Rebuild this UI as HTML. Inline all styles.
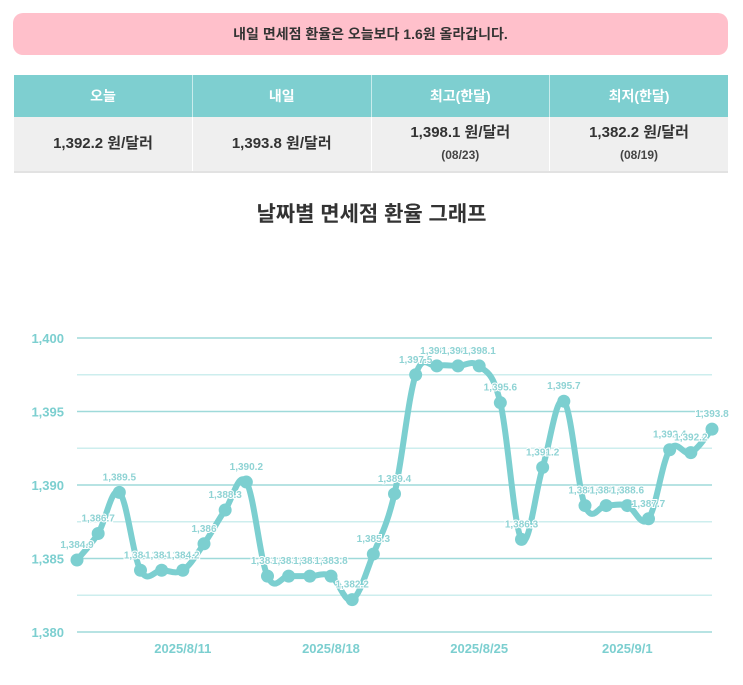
<!DOCTYPE html>
<html><head><meta charset="utf-8">
<style>
body{margin:0;width:743px;height:685px;background:#fff;font-family:"Liberation Sans","Noto Sans CJK KR",sans-serif;overflow:hidden;position:relative}
.banner{position:absolute;left:13px;top:13px;width:715px;height:42px;background:#ffc0cb;border-radius:10px;text-align:center;line-height:42px;font-size:14px;color:#333;font-weight:bold}
table{position:absolute;left:14px;top:75px;width:714px;border-collapse:collapse;table-layout:fixed}
th{background:#7ecfd0;color:#fff;font-size:14px;height:42px;padding:0;font-weight:bold;border-right:1px solid #c8ecec}
th:last-child,td:last-child{border-right:none}
td{background:#efefef;height:54px;padding:0;text-align:center;font-size:15px;font-weight:bold;color:#333;border-right:1px solid #fff;border-bottom:2px solid #e2e2e2;line-height:22px}
td small{font-size:12px;font-weight:bold;color:#444}
h2{position:absolute;top:198px;left:0;width:743px;text-align:center;margin:0;font-size:21px;font-weight:bold;color:#333}
svg{position:absolute;left:0;top:0}
</style></head><body>
<div class="banner">내일 면세점 환율은 오늘보다 1.6원 올라갑니다.</div>
<table><tr><th>오늘</th><th>내일</th><th>최고(한달)</th><th>최저(한달)</th></tr>
<tr><td>1,392.2 원/달러</td><td>1,393.8 원/달러</td><td>1,398.1 원/달러<br><small>(08/23)</small></td><td>1,382.2 원/달러<br><small>(08/19)</small></td></tr></table>
<h2>날짜별 면세점 환율 그래프</h2>
<svg id="c" width="743" height="685"></svg>
<script>
var v=[1384.9,1386.7,1389.5,1384.2,1384.2,1384.2,1386,1388.3,1390.2,1383.8,1383.8,1383.8,1383.8,1382.2,1385.3,1389.4,1397.5,1398.1,1398.1,1398.1,1395.6,1386.3,1391.2,1395.7,1388.6,1388.6,1388.6,1387.7,1392.4,1392.2,1393.8];
function X(i){return 77+i*635/30}function Y(a){return 632-(a-1380)*14.7}
var s='',c='#7ccfd0';
for(var k=0;k<9;k++){var y=338+k*36.75;s+='<line x1="77" x2="712" y1="'+y+'" y2="'+y+'" stroke="'+(k%2?'#cdeeee':'#9fdada')+'" stroke-width="1.5"/>';}
var yl=['1,400','1,395','1,390','1,385','1,380'];
for(k=0;k<5;k++)s+='<text x="64" y="'+(338+k*73.5+5)+'" text-anchor="end" font-size="13" font-weight="bold" fill="'+c+'" font-family="Liberation Sans">'+yl[k]+'</text>';
var dl=['2025/8/11','2025/8/18','2025/8/25','2025/9/1'],di=[5,12,19,26];
for(k=0;k<4;k++)s+='<text x="'+X(di[k])+'" y="653" text-anchor="middle" font-size="13" font-weight="bold" fill="'+c+'" font-family="Liberation Sans">'+dl[k]+'</text>';
var p='M'+X(0)+','+Y(v[0]);
for(var i=0;i<30;i++){var p0=i?i-1:0,p3=i+2>30?30:i+2,t=0.18;
var c1x=X(i)+(X(i+1)-X(p0))*t,c1y=Y(v[i])+(Y(v[i+1])-Y(v[p0]))*t,c2x=X(i+1)-(X(p3)-X(i))*t,c2y=Y(v[i+1])-(Y(v[p3])-Y(v[i]))*t;
p+=' C'+c1x+','+c1y+' '+c2x+','+c2y+' '+X(i+1)+','+Y(v[i+1]);}
s+='<path d="'+p+'" fill="none" stroke="'+c+'" stroke-width="6" stroke-linejoin="round"/>';
for(i=0;i<31;i++){s+='<circle cx="'+X(i)+'" cy="'+Y(v[i])+'" r="6.5" fill="'+c+'"/>';
var l=v[i].toLocaleString('en-US',{maximumFractionDigits:1});
s+='<text x="'+X(i)+'" y="'+(Y(v[i])-12)+'" text-anchor="middle" font-size="10" font-weight="bold" fill="#8fd3d4" stroke="#fff" stroke-width="2" paint-order="stroke" font-family="Liberation Sans">'+l+'</text>';}
document.getElementById('c').innerHTML=s;
</script>
</body></html>
